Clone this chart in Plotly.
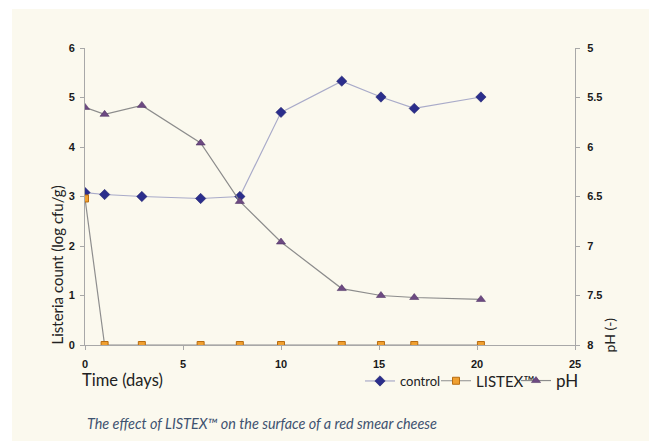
import plotly.graph_objects as go

# ---- data ----
days = [0, 1, 2.9, 5.9, 7.9, 10, 13.1, 15.1, 16.8, 20.2]
control = [3.08, 3.04, 3.0, 2.96, 3.0, 4.70, 5.33, 5.01, 4.78, 5.01]
listex = [2.96, 0, 0, 0, 0, 0, 0, 0, 0, 0]
ph = [5.60, 5.67, 5.58, 5.96, 6.55, 6.96, 7.43, 7.50, 7.52, 7.54]

x_ticks = [0, 5, 10, 15, 20, 25]
y_ticks = [0, 1, 2, 3, 4, 5, 6]
ph_ticks = [5, 5.5, 6, 6.5, 7, 7.5, 8]

# page has an 8px body margin: figure is drawn inside it
OFF = 8
WIN_W, WIN_H = 657, 444
W, H = WIN_W - OFF, WIN_H - OFF
# plot area in window pixels: x 85..575, y 48..345
L, R, T, B = 85 - OFF, WIN_W - 575, 48 - OFF, WIN_H - 345
pw, ph_h = W - L - R, H - T - B

def px(xw):
    return (xw - OFF - L) / pw

def py(yw):
    return (H - B - (yw - OFF)) / ph_h

CREAM = "#fbf9ee"
AXIS = "#a8a8a8"

fig = go.Figure()
fig.add_trace(go.Scatter(
    x=days, y=control, name="control", mode="lines+markers", legend="legend",
    line=dict(color="#a9abc9", width=1.2),
    marker=dict(symbol="diamond", size=8, color="#2b2e8c",
                line=dict(color="#1c1e66", width=0.5)),
))
fig.add_trace(go.Scatter(
    x=days, y=listex, name="LISTEX™", legend="legend2",
    mode="lines+markers",
    line=dict(color="#8e8e8e", width=1.2),
    marker=dict(symbol="square", size=7, color="#f0a030",
                line=dict(color="#b86c10", width=1)),
))
fig.add_trace(go.Scatter(
    x=days, y=ph, name="pH", legend="legend3",
    mode="lines+markers", yaxis="y2",
    line=dict(color="#8c8c8c", width=1.2),
    marker=dict(symbol="triangle-up", size=8, color="#6d4a82",
                line=dict(color="#45285a", width=0.5)),
))

tickfont = dict(family="Liberation Sans", size=11, color="#1a1a1a")
axis_common = dict(
    showgrid=False, zeroline=False, showline=True, linecolor=AXIS, linewidth=1,
    ticks="outside", ticklen=4, tickcolor=AXIS, tickwidth=1,
    tickfont=tickfont,
)

def leg(xw, size):
    return dict(orientation="h", x=px(xw), xanchor="left",
                y=py(381), yanchor="middle",
                font=dict(family="Lato", size=size, color="#222222"),
                bgcolor="rgba(0,0,0,0)", itemwidth=30, tracegroupgap=0)

fig.update_layout(
    width=W, height=H,
    margin=dict(l=L, r=R, t=T, b=B, pad=0),
    paper_bgcolor="white",
    plot_bgcolor="rgba(0,0,0,0)",
    xaxis=dict(range=[0, 25], tickvals=x_ticks, ticklabelstandoff=5,
               ticktext=[f"<b>{v}</b>" for v in x_ticks], **axis_common),
    yaxis=dict(range=[0, 6], tickvals=y_ticks, ticklabelstandoff=3,
               ticktext=[f"<b>{v}</b>" for v in y_ticks], **axis_common),
    yaxis2=dict(range=[8, 5], overlaying="y", side="right", anchor="x",
                tickvals=ph_ticks, ticklabelstandoff=5,
                ticktext=[f"<b>{v:g}</b>" for v in ph_ticks], **axis_common),
    showlegend=True,
    legend=leg(360, 13),
    legend2=leg(436, 15),
    legend3=leg(516, 17),
    shapes=[dict(type="rect", xref="paper", yref="paper", layer="below",
                 x0=px(12), x1=px(WIN_W + 5), y0=py(441), y1=py(9),
                 fillcolor=CREAM, line=dict(width=0))],
    annotations=[
        dict(text="Listeria count (log cfu/g)", xref="paper", yref="paper",
             x=px(56), y=py(347), xanchor="center", yanchor="bottom",
             textangle=-90, showarrow=False,
             font=dict(family="Lato", size=15, color="#222222")),
        dict(text="pH (-)", xref="paper", yref="paper",
             x=px(609), y=py(355), xanchor="center", yanchor="bottom",
             textangle=-90, showarrow=False,
             font=dict(family="Lato", size=14, color="#222222")),
        dict(text="Time (days)", xref="paper", yref="paper",
             x=px(80), y=py(380), xanchor="left", yanchor="middle",
             showarrow=False,
             font=dict(family="Lato", size=16.5, color="#222222")),
        dict(text="<i>The effect of LISTEX™ on the surface of a red smear cheese</i>",
             xref="paper", yref="paper",
             x=px(85), y=py(423), xanchor="left", yanchor="middle",
             showarrow=False,
             font=dict(family="Lato", size=14.4, color="#3e5270")),
    ],
)

fig.write_html("out.html")
